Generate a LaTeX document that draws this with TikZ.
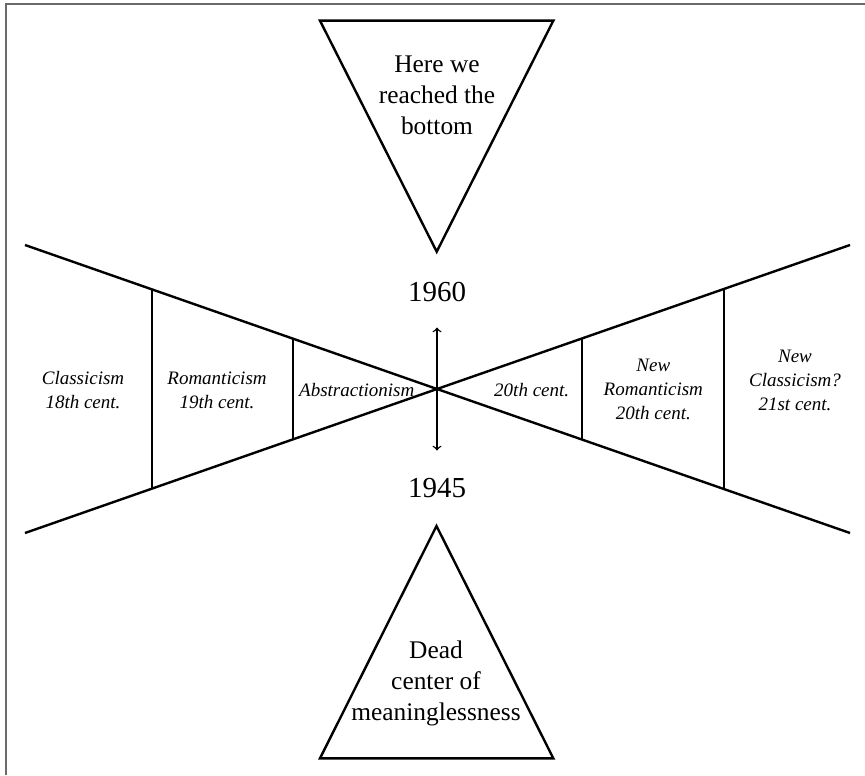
\documentclass[tikz,border=0pt]{standalone}
\usepackage{fontspec}
\setmainfont{Liberation Serif}
\definecolor{framegray}{HTML}{6A6A6A}
\begin{document}
\begin{tikzpicture}[x=0.5pt,y=-0.5pt,
  era/.style={font=\fontsize{9.5}{12}\selectfont\itshape, align=center, inner sep=0pt},
  year/.style={font=\fontsize{14.5}{17}\selectfont, inner sep=0pt},
  note/.style={font=\fontsize{12.7}{15.5}\selectfont, align=center, inner sep=0pt},
  bar/.style={draw, line width=1.2pt}]
\useasboundingbox (0,0) rectangle (865,775);
\draw[framegray, line width=0.85pt] (5.8,775) -- (5.8,4.2) -- (865,4.2);

% the two wedges
\coordinate (c) at (437,389);
\coordinate (ul) at (25,245);
\coordinate (ll) at (25,533);
\coordinate (ur) at (850,245);
\coordinate (lr) at (850,533);
\path[bar] (ul) -- (c) -- (lr);
\path[bar] (ll) -- (c) -- (ur);

\coordinate (a1) at (151.7,289.3);
\coordinate (b1) at (151.7,488.7);
\coordinate (a2) at (292.7,338.6);
\coordinate (b2) at (292.7,439.4);
\coordinate (a3) at (581.7,338.5);
\coordinate (b3) at (581.7,439.5);
\coordinate (a4) at (724,288.9);
\coordinate (b4) at (724,489.1);
\path[bar] (a1) -- (b1);
\path[bar] (a2) -- (b2);
\path[bar] (a3) -- (b3);
\path[bar] (a4) -- (b4);

\node[era] (classic) at (83,390.5) {Classicism\\18th cent.};
\node[era] (roman) at (217,390.5) {Romanticism\\19th cent.};
\node[era] (abstr) at (356.7,390) {Abstractionism};
\node[era] (cent20) at (531.7,390) {20th cent.};
\node[era] (newroman) at (653.3,389) {New\\Romanticism\\20th cent.};
\node[era] (newclassic) at (795,380) {New\\Classicism?\\21st cent.};

% years
\node[year] (y1960) at (437,291.7) {1960};
\node[year] (y1945) at (437,488.3) {1945};
\coordinate (up) at (437,327.5);
\coordinate (dn) at (437,450.5);
\path[draw,<->,>=to,line width=0.7pt] (dn) -- (up);

% triangles
\path[bar] (320,20.7) -- (553.3,20.7) -- (436.7,251.7) -- cycle;
\path[bar] (436.5,526) -- (553.3,758.3) -- (320,758.3) -- cycle;
\node[note] (bottom) at (437,95) {Here we\\reached the\\bottom};
\node[note] (dead) at (436,683) {Dead\\center of\\meaninglessness};
\end{tikzpicture}
\end{document}
